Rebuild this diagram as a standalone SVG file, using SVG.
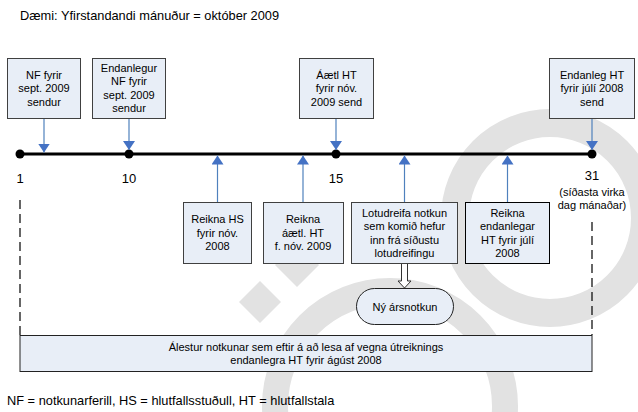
<svg xmlns="http://www.w3.org/2000/svg" width="638" height="412" viewBox="0 0 638 412">
<defs>
<style>
text{font-family:"Liberation Sans",Arial,sans-serif;fill:#000}
.t{font-size:11px;text-anchor:middle}
.box{fill:#E8EEF7;stroke:#404040;stroke-width:1}
.wm{fill:none;stroke:#E2E2E2}
.conn{stroke:#4F81BD;stroke-width:1.2;fill:none}
.dash{stroke:#000;stroke-width:1.2;stroke-dasharray:9 5;fill:none}
</style>
<marker id="ah" viewBox="0 0 10 10" refX="10" refY="5" markerWidth="9" markerHeight="12" markerUnits="userSpaceOnUse" orient="auto" preserveAspectRatio="none">
<path d="M0,0 L10,5 L0,10 Z" fill="#4472C4"/>
</marker>
</defs>
<rect width="638" height="412" fill="#fff"/>
<g id="watermark">
<circle class="wm" cx="550" cy="218" r="95" stroke-width="28"/>
<circle class="wm" cx="390" cy="406" r="115" stroke-width="26"/>
<path d="M260,281 L281,302 L260,323 L239,302 Z" fill="#E2E2E2"/>
<path d="M297,243 L319,265 L297,287 L275,265 Z" fill="#E2E2E2"/>
</g>
<text x="20" y="20" style="font-size:12.8px">Dæmi: Yfirstandandi mánuður = október 2009</text>
<g id="timeline">
<line x1="20" y1="154" x2="592" y2="154" stroke="#000" stroke-width="3"/>
<circle cx="20" cy="154" r="4.5"/>
<circle cx="129" cy="154" r="4.5"/>
<circle cx="336" cy="154" r="4.5"/>
<circle cx="592" cy="154" r="4.5"/>
<text x="20" y="183" style="font-size:13px" text-anchor="middle">1</text>
<text x="129" y="183" style="font-size:13px" text-anchor="middle">10</text>
<text x="336" y="183" style="font-size:13px" text-anchor="middle">15</text>
<text x="592" y="180" style="font-size:13px" text-anchor="middle">31</text>
<text class="t" x="592" y="196">(síðasta virka</text>
<text class="t" x="592" y="209">dag mánaðar)</text>
</g>
<g id="connectors">
<line class="conn" x1="44" y1="118" x2="44" y2="152.5" marker-end="url(#ah)"/>
<line class="conn" x1="129" y1="118" x2="129" y2="150" marker-end="url(#ah)"/>
<line class="conn" x1="336" y1="118" x2="336" y2="150" marker-end="url(#ah)"/>
<line class="conn" x1="592" y1="118" x2="592" y2="150" marker-end="url(#ah)"/>
<line class="conn" x1="217.5" y1="202" x2="217.5" y2="155.5" marker-end="url(#ah)"/>
<line class="conn" x1="303" y1="202" x2="303" y2="155.5" marker-end="url(#ah)"/>
<line class="conn" x1="404.5" y1="202" x2="404.5" y2="155.5" marker-end="url(#ah)"/>
<line class="conn" x1="507.5" y1="202" x2="507.5" y2="155.5" marker-end="url(#ah)"/>
<path d="M401.5,263 L407.5,263 L407.5,281 L411,281 L404.5,288 L398,281 L401.5,281 Z" fill="#fff" stroke="#333" stroke-width="1"/>
<line class="dash" x1="20" y1="200" x2="20" y2="335"/>
<line class="dash" x1="592" y1="222" x2="592" y2="335"/>
</g>
<g id="n1">
<rect class="box" x="7.5" y="58.5" width="73" height="60"/>
<text class="t" x="44" y="78.5">NF fyrir</text>
<text class="t" x="44" y="92">sept. 2009</text>
<text class="t" x="44" y="105.5">sendur</text>
</g>
<g id="n2">
<rect class="box" x="92.5" y="58.5" width="73" height="60"/>
<text class="t" x="129" y="71.7">Endanlegur</text>
<text class="t" x="129" y="85.2">NF fyrir</text>
<text class="t" x="129" y="98.7">sept. 2009</text>
<text class="t" x="129" y="112.2">sendur</text>
</g>
<g id="n3">
<rect class="box" x="299.5" y="58.5" width="74" height="60"/>
<text class="t" x="336.5" y="78.5">Áætl HT</text>
<text class="t" x="336.5" y="92">fyrir nóv.</text>
<text class="t" x="336.5" y="105.5">2009 send</text>
</g>
<g id="n4">
<rect class="box" x="549.5" y="58.5" width="85" height="60"/>
<text class="t" x="592" y="78.5">Endanleg HT</text>
<text class="t" x="592" y="92">fyrir júlí 2008</text>
<text class="t" x="592" y="105.5">send</text>
</g>
<g id="n5">
<rect class="box" x="183.5" y="202.5" width="68" height="61"/>
<text class="t" x="217.5" y="223">Reikna HS</text>
<text class="t" x="217.5" y="236.5">fyrir nóv.</text>
<text class="t" x="217.5" y="250">2008</text>
</g>
<g id="n6">
<rect class="box" x="263.5" y="202.5" width="80" height="61"/>
<text class="t" x="303" y="223">Reikna</text>
<text class="t" x="303" y="236.5">áætl. HT</text>
<text class="t" x="303" y="250">f. nóv. 2009</text>
</g>
<g id="n7">
<rect class="box" x="351.5" y="202.5" width="106" height="61"/>
<text class="t" x="404.5" y="216.5">Lotudreifa notkun</text>
<text class="t" x="404.5" y="230">sem komið hefur</text>
<text class="t" x="404.5" y="243.5">inn frá síðustu</text>
<text class="t" x="404.5" y="257">lotudreifingu</text>
</g>
<g id="n8">
<rect class="box" x="465.5" y="202.5" width="84" height="61" style="stroke:#000"/>
<text class="t" x="507.5" y="216.5">Reikna</text>
<text class="t" x="507.5" y="230">endanlegar</text>
<text class="t" x="507.5" y="243.5">HT fyrir júlí</text>
<text class="t" x="507.5" y="257">2008</text>
</g>
<g id="n9">
<rect class="box" x="356.5" y="288.5" width="97" height="36" rx="18" ry="18" style="stroke:#222"/>
<text class="t" x="405" y="310.5">Ný ársnotkun</text>
</g>
<g id="n10">
<rect class="box" x="20" y="335.5" width="572" height="36" style="stroke:#222"/>
<text class="t" x="306" y="351">Álestur notkunar sem eftir á að lesa af vegna útreiknings</text>
<text class="t" x="306" y="364">endanlegra HT fyrir ágúst 2008</text>
</g>
<text x="7" y="405" style="font-size:12.8px">NF = notkunarferill, HS = hlutfallsstuðull, HT = hlutfallstala</text>
</svg>
